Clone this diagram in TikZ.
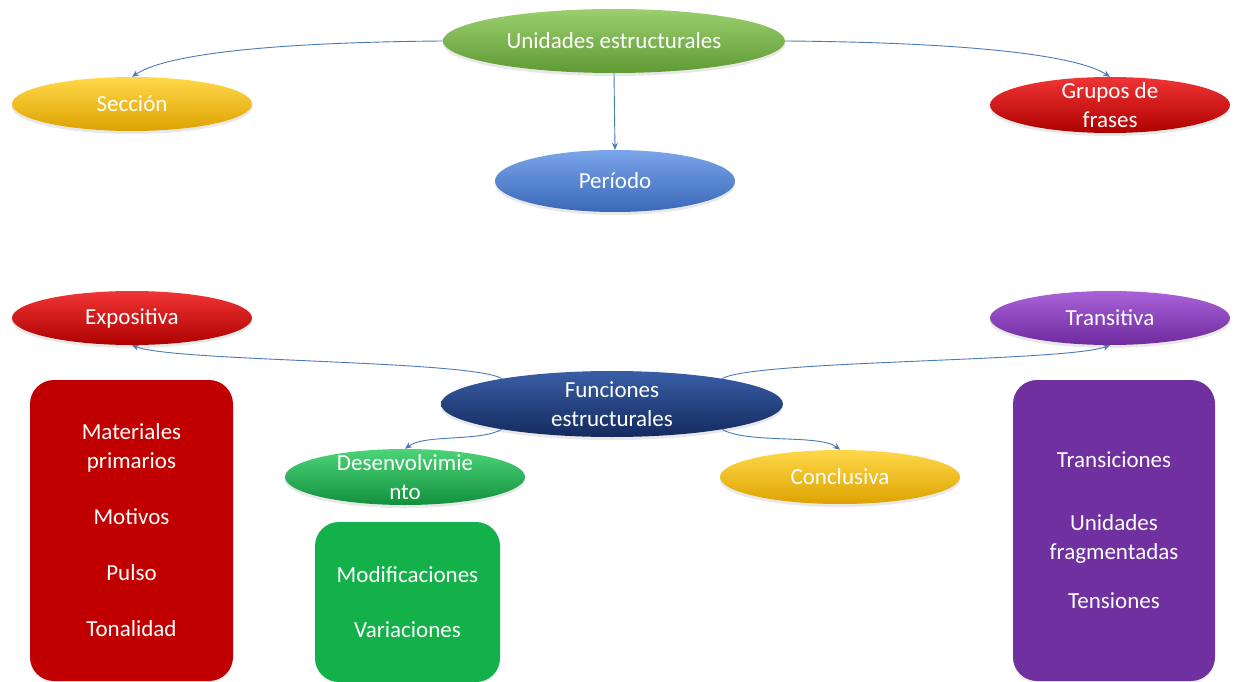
\documentclass[tikz,border=0pt]{standalone}
\usepackage{fontspec}
\setmainfont{Carlito}
\usetikzlibrary{shapes.geometric,arrows.meta,shadows}

\definecolor{linkblue}{HTML}{4A7AB8}
% ellipse fills: light top, base middle, darker bottom
\definecolor{grnT}{HTML}{9CCF6E}\definecolor{grnM}{HTML}{77B547}\definecolor{grnB}{HTML}{5E9A34}
\definecolor{ylwT}{HTML}{FFD84A}\definecolor{ylwM}{HTML}{F5BF00}\definecolor{ylwB}{HTML}{DDA200}
\definecolor{redT}{HTML}{F03535}\definecolor{redM}{HTML}{D40000}\definecolor{redB}{HTML}{AE0000}
\definecolor{bluT}{HTML}{7AA5EA}\definecolor{bluM}{HTML}{4A80D8}\definecolor{bluB}{HTML}{3A68B8}
\definecolor{purT}{HTML}{AA62D8}\definecolor{purM}{HTML}{8A3AC0}\definecolor{purB}{HTML}{6E2A9E}
\definecolor{navT}{HTML}{3A5EA6}\definecolor{navM}{HTML}{1F3D80}\definecolor{navB}{HTML}{132A5E}
\definecolor{emdT}{HTML}{4CD478}\definecolor{emdM}{HTML}{1EB34E}\definecolor{emdB}{HTML}{12903E}
% panel fills
\definecolor{boxRed}{HTML}{C00000}
\definecolor{boxGrn}{HTML}{14B04A}
\definecolor{boxPur}{HTML}{7030A0}

\begin{document}
\begin{tikzpicture}[x=1pt,y=-1pt,
  oval/.style={ellipse, inner sep=0pt, minimum width=240pt, minimum height=54pt,
    drop shadow={opacity=0.18, shadow xshift=0pt, shadow yshift=-3pt}},
  wide/.style={minimum width=342pt, minimum height=64pt},
  fillgrn/.style={top color=grnT, middle color=grnM, bottom color=grnB},
  fillylw/.style={top color=ylwT, middle color=ylwM, bottom color=ylwB},
  fillred/.style={top color=redT, middle color=redM, bottom color=redB},
  fillblu/.style={top color=bluT, middle color=bluM, bottom color=bluB},
  fillpur/.style={top color=purT, middle color=purM, bottom color=purB},
  fillnav/.style={top color=navT, middle color=navM, bottom color=navB},
  fillemd/.style={top color=emdT, middle color=emdM, bottom color=emdB},
  lbl/.style={text=white, font=\fontsize{23}{29}\selectfont, align=center, inner sep=0pt},
  panel/.style={rectangle, rounded corners=24pt, inner sep=0pt, text=white,
    font=\fontsize{23}{29}\selectfont, align=center,
    drop shadow={opacity=0.15, shadow xshift=0pt, shadow yshift=-2pt}},
  link/.style={draw=linkblue, line width=0.9pt, -{Stealth[length=7pt,width=6pt]}},
]
\useasboundingbox (0,0) rectangle (1235,682);

% ---- upper group: structural units ----
\node[oval, wide, fillgrn] (uni) at (614,41) {};
\node[lbl] (uniT) at (uni) {Unidades estructurales};
\node[oval, fillylw] (sec) at (132,104) {};
\node[lbl] (secT) at (sec) {Sección};
\node[oval, minimum height=56pt, fillred] (gru) at (1110,105) {};
\node[lbl] (gruT) at (gru) {Grupos de\\frases};
\node[oval, minimum height=62pt, fillblu] (per) at (615,181) {};
\node[lbl] (perT) at (per) {Período};

\draw[link] (uni.west) .. controls (310,42) and (172,50) .. (sec.north);
\draw[link] (uni.east) .. controls (920,42) and (1068,50) .. (gru.north);
\draw[link] (uni.south) -- (per.north);

% ---- lower group: structural functions ----
\node[oval, wide, minimum height=66pt, fillnav] (fun) at (612,404) {};
\node[lbl] (funT) at (fun) {Funciones\\estructurales};
\node[oval, fillred] (exp) at (132,318) {};
\node[lbl] (expT) at (exp) {Expositiva};
\node[oval, fillpur] (tra) at (1110,318) {};
\node[lbl] (traT) at (tra) {Transitiva};
\node[oval, minimum height=56pt, fillemd] (des) at (405,477) {};
\node[lbl] (desT) at (des) {Desenvolvimie\\nto};
\node[oval, fillylw] (con) at (840,477) {};
\node[lbl] (conT) at (con) {Conclusiva};

\draw[link] (fun.167) .. controls (470,360) and (175,362) .. (exp.south);
\draw[link] (fun.13) .. controls (755,360) and (1065,362) .. (tra.south);
\draw[link] (fun.193) .. controls (478,442) and (425,434) .. (des.north);
\draw[link] (fun.-13) .. controls (748,444) and (820,434) .. (con.north);

% ---- detail panels ----
\node[panel, fill=boxRed, minimum width=203pt, minimum height=301pt] (pRed) at (131.5,530.5)
  {Materiales\\primarios\\[27pt]Motivos\\[27pt]Pulso\\[27pt]Tonalidad};
\node[panel, fill=boxGrn, minimum width=185pt, minimum height=160pt] (pGrn) at (407.5,602)
  {Modificaciones\\[26pt]Variaciones};
\node[panel, fill=boxPur, minimum width=202pt, minimum height=301pt] (pPur) at (1114,530.5)
  {Transiciones\\[34pt]Unidades\\fragmentadas\\[20pt]Tensiones};
\end{tikzpicture}
\end{document}
